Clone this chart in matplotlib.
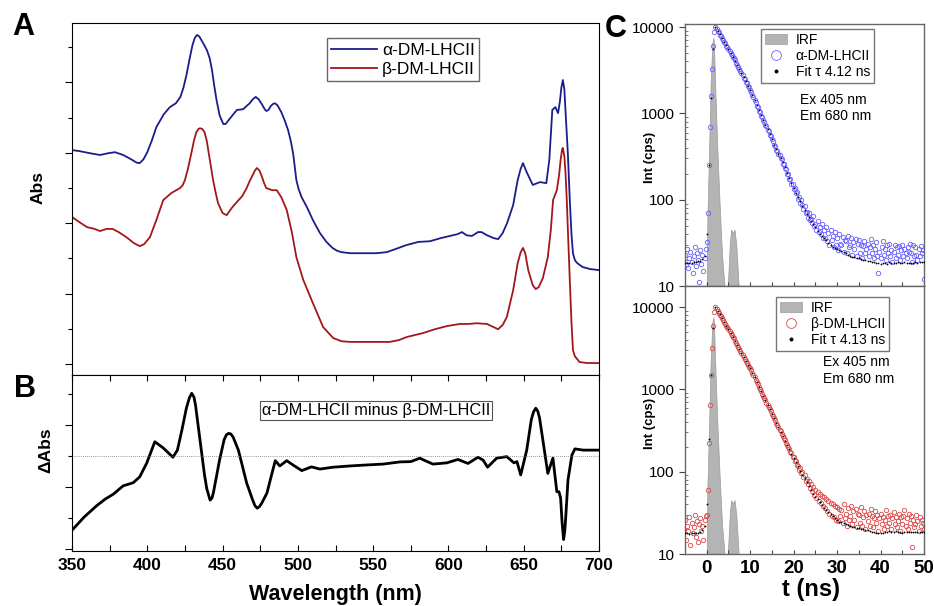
import numpy as np
import matplotlib
matplotlib.use('Agg')
import matplotlib.pyplot as plt

plt.rcParams['font.family'] = ['Liberation Sans', 'DejaVu Sans']

W, H = 934, 606

# ---- panel A: absorption spectra (arbitrary units) ----
wl_a = [350, 355, 362, 368.6, 374, 378.5, 384, 390, 393, 395, 397.5, 400, 403, 406, 411,
        415, 419, 422, 424, 426, 428, 430, 431.5, 433, 434.5, 436, 438, 439.6, 441.5, 443,
        444.5, 446, 448, 450.5, 452, 454, 459.5, 463.6, 468, 470, 472, 474, 476, 478, 479,
        480.5, 482, 483.5, 484.8, 486.5, 489, 491, 493.5, 495.5, 497, 499, 500.5, 502.5,
        506, 510, 514.7, 519, 523, 526, 529, 534.6, 545, 552, 559, 565, 572, 580, 587.7,
        595, 601, 606, 609, 612, 615.6, 619.6, 622, 625.6, 630, 633, 636, 639, 643, 646,
        648, 649.5, 652, 656, 660.8, 665, 667, 669, 671, 672.8, 674, 675, 676, 677, 678,
        679.3, 680.6, 681.7, 682.7, 684, 685.5, 689, 694, 700]
abs_alpha = [0.608, 0.605, 0.599, 0.594, 0.599, 0.602, 0.594, 0.580, 0.572, 0.571, 0.582,
             0.602, 0.635, 0.673, 0.710, 0.730, 0.741, 0.759, 0.785, 0.821, 0.865, 0.906,
             0.926, 0.935, 0.931, 0.920, 0.905, 0.892, 0.868, 0.835, 0.790, 0.750, 0.707,
             0.682, 0.682, 0.693, 0.722, 0.724, 0.741, 0.752, 0.759, 0.752, 0.739, 0.724,
             0.719, 0.722, 0.733, 0.739, 0.741, 0.735, 0.716, 0.695, 0.665, 0.630, 0.594,
             0.523, 0.497, 0.474, 0.446, 0.409, 0.372, 0.347, 0.330, 0.322, 0.318, 0.315,
             0.315, 0.315, 0.318, 0.327, 0.338, 0.347, 0.349, 0.358, 0.364, 0.369, 0.375,
             0.366, 0.364, 0.375, 0.375, 0.366, 0.358, 0.355, 0.372, 0.401, 0.452, 0.523,
             0.555, 0.571, 0.545, 0.509, 0.517, 0.514, 0.580, 0.722, 0.730, 0.713, 0.745,
             0.785, 0.807, 0.780, 0.700, 0.600, 0.466, 0.370, 0.315, 0.295, 0.287, 0.276,
             0.270, 0.267]

wl_b = [350, 355, 360, 365, 368.6, 373, 377, 381, 386, 391, 395, 398, 401.8, 406, 410.6,
        416, 421.7, 423.5, 425, 427, 429, 431, 432.5, 434, 435, 436.5, 438, 439.5, 441,
        442.5, 443.7, 445.5, 447, 450, 452.7, 456, 459.4, 463, 466, 468, 470, 471.5, 472.8,
        474.5, 476, 477.5, 479, 483, 486, 489, 492.6, 496, 499, 503.6, 510, 516.8, 523.5,
        529, 534.6, 545, 561, 567, 572.4, 583, 591, 599, 607.6, 613, 618.9, 625.6, 630,
        633, 636, 638.8, 643, 646, 648, 649.5, 651, 653, 656, 658, 660, 662.7, 666, 668,
        669.5, 672, 673.5, 674.5, 675.5, 676, 677, 677.8, 678.6, 679.6, 680.6, 681.7,
        682.7, 684, 685, 687, 692, 700]
abs_beta = [0.418, 0.403, 0.389, 0.384, 0.378, 0.384, 0.384, 0.375, 0.361, 0.344, 0.335,
            0.341, 0.361, 0.409, 0.466, 0.486, 0.500, 0.508, 0.523, 0.555, 0.594, 0.635,
            0.658, 0.668, 0.670, 0.668, 0.659, 0.635, 0.594, 0.555, 0.523, 0.485, 0.457,
            0.429, 0.423, 0.443, 0.460, 0.477, 0.500, 0.520, 0.537, 0.550, 0.557, 0.550,
            0.534, 0.515, 0.500, 0.494, 0.494, 0.474, 0.438, 0.375, 0.304, 0.239, 0.173,
            0.105, 0.074, 0.065, 0.063, 0.063, 0.063, 0.068, 0.077, 0.088, 0.099, 0.108,
            0.114, 0.114, 0.116, 0.114, 0.105, 0.099, 0.111, 0.134, 0.210, 0.287, 0.318,
            0.330, 0.315, 0.267, 0.224, 0.213, 0.219, 0.244, 0.304, 0.381, 0.466, 0.494,
            0.537, 0.580, 0.610, 0.614, 0.590, 0.540, 0.466, 0.350, 0.239, 0.120, 0.040,
            0.022, 0.017, 0.006, 0.003, 0.003]

# ---- panel B: difference spectrum ----
wl_d = [350, 358, 366.4, 372, 377.4, 384, 390.7, 395, 399.6, 405, 410.6, 417, 420, 423,
        426, 428, 429.5, 431, 432, 435, 438, 439.5, 441.7, 443, 444, 448, 451, 452.5, 454,
        455.5, 457, 460.5, 466, 470, 471.5, 473, 474.5, 476, 479.5, 482, 485, 488, 492.6,
        496.8, 502.6, 509, 514.6, 523.5, 534.6, 545, 556.6, 567.8, 575, 581, 585, 589.7,
        599, 606.3, 613, 619.6, 623, 626, 632, 638.8, 643.5, 645.5, 648, 652, 655, 656.5,
        658, 659.3, 660.5, 662.7, 666, 669.4, 672, 673.4, 674.5, 675.5, 676.5, 677.3, 678,
        679.4, 682, 684, 689.5, 700]
d_abs = [-0.0239, -0.0197, -0.0160, -0.0139, -0.0123, -0.0096, -0.0086, -0.0067, -0.0023,
         0.0046, 0.0026, -0.0004, 0.0019, 0.0084, 0.0155, 0.0188, 0.0202, 0.0190, 0.0165,
         0.0052, -0.0061, -0.0105, -0.0142, -0.0135, -0.0116, -0.0013, 0.0052, 0.0068,
         0.0073, 0.0071, 0.0061, 0.0019, -0.0087, -0.0142, -0.0160, -0.0168, -0.0163,
         -0.0152, -0.0119, -0.0071, -0.0015, -0.0032, -0.0015, -0.0029, -0.0047, -0.0035,
         -0.0042, -0.0036, -0.0032, -0.0029, -0.0026, -0.0019, -0.0018, -0.0007, -0.0016,
         -0.0026, -0.0022, -0.0011, -0.0024, -0.0004, -0.0013, -0.0036, -0.0007, -0.0002,
         -0.0022, -0.0018, -0.0061, 0.0019, 0.0116, 0.0142, 0.0154, 0.0145, 0.0123, 0.0052,
         -0.0056, -0.0007, -0.0115, -0.0115, -0.0135, -0.0215, -0.0269, -0.0240, -0.0190,
         -0.0077, 0.0003, 0.0023, 0.0019, 0.0019]

# ---- panel C: fluorescence decays ----
t_fit = np.arange(-5, 50.01, 0.5)
t_dat = np.arange(-5, 50.01, 0.25)

fit_alpha = [18.5, 18.5, 18.3, 18.6, 18.8, 19.0, 19.3, 19.6, 20.5, 22,
             40, 250, 1500, 5500, 10000,
             9060, 8210, 7440, 6740, 6110, 5530, 5010, 4540,
             4080, 3650, 3270, 2920, 2620, 2340, 2100, 1875,
             1640, 1430, 1245, 1085,
             950, 840, 741, 653, 577, 509,
             430, 384, 341, 304, 270,
             236, 205, 178, 154,
             135, 121, 107, 96, 85.5, 76,
             68.3, 62.5, 57.2, 52.3, 47.8, 43.8,
             40.3, 37.9, 35.7, 33.7, 31.7, 29.9,
             28.3, 27.5, 26.7, 26.0, 25.2, 24.5, 23.8, 23.1, 22.4,
             21.8, 21.5, 21.2, 20.9, 20.5, 20.2, 19.9, 19.6, 19.3, 19.0, 18.8, 18.5, 18.3,
             18.0, 18.4, 18.6, 18.2, 18.8, 18.5, 18.3, 18.7, 18.9, 18.4, 18.6, 18.9, 18.5,
             18.7, 18.4, 18.6, 18.9, 18.5, 18.8, 18.9, 19.0]

fit_beta = [17.8, 17.9, 17.6, 18.0, 17.8, 18.2, 18.0, 18.5, 19.5, 22,
            40, 250, 1500, 5500, 10000,
            9020, 8130, 7330, 6610, 5960, 5380, 4850, 4380,
            3920, 3490, 3100, 2760, 2460, 2190, 1950, 1812,
            1590, 1400, 1228, 1080, 948,
            834, 736, 649, 572, 505,
            445, 393, 347, 306, 270, 239,
            211, 187, 166, 147, 131, 116,
            103, 92.3, 82.8, 74.2, 66.5, 59.7,
            53.8, 49.8, 46.1, 42.6, 39.5, 36.5,
            33.9, 32.2, 30.5, 29.0, 27.5, 26.1,
            24.8, 24.5, 24.0, 23.2, 22.4, 21.9, 21.5,
            21.1, 20.8, 20.5, 20.2, 19.9, 19.6,
            19.3, 18.9, 18.6, 18.3, 18.1, 17.9, 17.8,
            18.0, 18.3, 18.6, 18.9, 18.7, 18.5, 18.8, 18.4, 18.6, 18.2, 18.5, 18.7, 18.4,
            18.6, 18.3, 18.7, 18.5, 18.6, 18.4, 18.6]

cnt_alpha = [23, 18, 27, 16, 21, 25, 19, 14, 22, 28, 17, 24, 20, 11, 26, 18, 23, 15, 21, 27,
             32, 70, 250, 700, 1600, 3300, 6000, 8800,
             10000, 9600, 9000, 8700, 8150, 7900, 7400, 7150, 6700, 6450, 6050, 5850,
             5500, 5300, 4950, 4800, 4500, 4350, 4100, 3880, 3620, 3480, 3240, 3120,
             2900, 2800, 2600, 2510, 2320, 2240, 2080, 2010, 1860, 1770, 1620, 1550,
             1420, 1350, 1230, 1180, 1070, 1030, 940, 910, 830, 800, 730, 710,
             640, 625, 565, 550, 500, 480, 425, 415, 380, 370, 335, 330,
             300, 295, 262, 262, 232, 228, 200, 198, 172, 175, 150, 152,
             132, 138, 118, 122,
             102, 108, 92, 99, 86, 78, 84, 70, 72, 62, 70, 58, 60, 54, 64, 50,
             52, 45, 57, 42, 48, 40, 52, 36, 44, 36, 48, 33, 41, 30, 45, 34,
             38, 28, 42, 30, 36, 26, 40, 31, 30, 37, 25, 34, 33, 24, 38, 28,
             30, 36, 23, 32, 27, 35, 22, 31, 34, 24, 30, 21, 29, 33, 24, 27,
             31, 22, 28, 35, 24, 30, 21, 27, 32, 22, 14, 25, 21, 28, 33, 23,
             27, 20, 30, 24, 31, 22, 26, 19, 25, 30, 21, 28, 23, 29, 20, 26,
             30, 22, 27, 24, 21, 28, 25, 31, 24, 19, 30, 22, 28, 23, 20, 27,
             22, 29, 24, 26,
             12]

cnt_beta = [26, 15, 22, 19, 28, 13, 24, 18, 21, 30, 16, 25, 14, 23, 27, 19, 22, 15, 26, 29,
            30, 60, 220, 650, 1500, 3200, 5900, 8700,
            10000, 9500, 9000, 8550, 8100, 7700, 7300, 6950, 6600, 6250, 5950, 5650,
            5380, 5100, 4850, 4600, 4380, 4150, 3920, 3700, 3490, 3300, 3100, 2930,
            2760, 2610, 2460, 2330, 2190, 2080, 1950, 1870, 1810, 1700, 1590, 1490,
            1400, 1310, 1230, 1150, 1080, 1010, 950, 890, 830, 780, 740, 690,
            650, 610, 575, 540, 505, 470, 445, 420, 395, 370, 350, 325,
            310, 290, 268, 255, 242, 225, 210, 200, 190, 172, 168, 152,
            150, 136, 133, 120,
            118, 106, 110, 96, 98, 86, 90, 78, 82, 70, 78, 64, 70, 58, 66, 52,
            60, 48, 57, 44, 54, 42, 50, 38, 49, 36, 46, 33, 44, 31, 42, 29,
            40, 28, 38, 26, 37, 25, 35, 29, 34, 24, 40, 27, 31, 22, 36, 26,
            29, 38, 23, 33, 26, 35, 21, 31, 30, 24, 37, 22, 28, 33, 20, 30,
            25, 31, 22, 35, 29, 21, 27, 33, 24, 30, 19, 27, 31, 23, 28, 20,
            26, 34, 22, 29, 24, 30, 20, 27, 32, 23, 28, 21, 25, 31, 19, 28,
            23, 29, 34, 22, 27, 20, 31, 24, 29, 12, 26, 21, 23, 30, 25, 19,
            28, 22, 26, 24,
            20]

t_irf = [-0.3, 0.0, 0.15, 0.55, 0.9, 1.3, 1.55, 1.7, 2.05, 2.45, 2.8, 3.2, 3.55, 4.1,
         4.4, 4.85, 5.3, 5.6, 6.0, 6.4, 6.8, 7.35, 7.8]
irf = [1, 10, 63, 380, 2200, 6500, 7500, 5500, 1450, 380, 141, 49, 22, 10,
       5, 10, 30, 45, 41, 45, 30, 10, 1]


def fx(px):
    return px / W


def fy(py):
    return 1 - py / H


def axes_px(fig, x0, y0, x1, y1):
    return fig.add_axes([fx(x0), fy(y1), fx(x1) - fx(x0), fy(y0) - fy(y1)])


fig = plt.figure(figsize=(W / 100, H / 100), dpi=100)

# ---------- A ----------
axA = axes_px(fig, 72, 23, 599, 375)
axA.plot(wl_a, abs_alpha, color='#1c1c8a', lw=1.3, label='\u03b1-DM-LHCII')
axA.plot(wl_b, abs_beta, color='#a3171c', lw=1.3, label='\u03b2-DM-LHCII')
axA.set_xlim(350, 700)
axA.set_ylim(-0.031, 0.969)
axA.set_yticks(np.arange(0, 0.85, 0.2))
axA.set_yticks(np.arange(0.1, 0.95, 0.2), minor=True)
axA.set_yticklabels([])
axA.tick_params(axis='y', which='major', direction='out', length=5, width=0.8)
axA.tick_params(axis='y', which='minor', direction='out', length=3, width=0.8)
axA.set_xticks([])
axA.legend(loc='upper left', bbox_to_anchor=(0.484, 0.957), borderaxespad=0,
           fontsize=12.5, handlelength=2.6, handletextpad=0.3, labelspacing=0.25,
           borderpad=0.25, fancybox=False, edgecolor='#666666', framealpha=1)

# ---------- B ----------
axB = axes_px(fig, 72, 375, 599, 551)
axB.plot(wl_d, d_abs, color='black', lw=2.0)
axB.axhline(0, color='#777777', lw=0.6, ls=(0, (1, 1.5)))
axB.set_xlim(350, 700)
axB.set_ylim(-0.0306, 0.0261)
axB.set_yticks([-0.03, -0.01, 0.01])
axB.set_yticks([-0.02, 0.0, 0.02], minor=True)
axB.set_yticklabels([])
axB.tick_params(axis='y', which='major', direction='out', length=5, width=0.8)
axB.tick_params(axis='y', which='minor', direction='out', length=3, width=0.8)
axB.set_xticks(np.arange(350, 701, 50))
axB.set_xticks(np.arange(375, 700, 50), minor=True)
axB.tick_params(axis='x', which='both', direction='in', top=True, length=4, width=0.8,
                labelsize=12.5, pad=5)
for lab in axB.get_xticklabels():
    lab.set_fontweight('bold')
axB.text(0.577, 0.80, '\u03b1-DM-LHCII minus \u03b2-DM-LHCII', transform=axB.transAxes,
         ha='center', va='center', fontsize=11.8,
         bbox=dict(boxstyle='square,pad=0.12', fc='white', ec='#555555', lw=0.8))

# ---------- C ----------
def decay_panel(ax, t_d, counts, t_f, fit, color, label, tau, ymax, leg_anchor):
    ax.fill_between(t_irf, irf, 1, color='#b4b4b4', edgecolor='#9a9a9a', lw=0.5,
                    label='IRF', zorder=1)
    ax.plot(t_d, counts, ls='none', marker='o', ms=3.2, mfc='none', mec=color, mew=0.6,
            label=label, zorder=2)
    ax.plot(t_f, fit, ls='none', marker='o', ms=1.3, color='black', mew=0,
            label='Fit \u03c4 ' + tau + ' ns', zorder=3)
    ax.set_yscale('log')
    ax.set_xlim(-5, 50)
    ax.set_ylim(10, ymax)
    ax.set_yticks([10, 100, 1000, 10000], labels=['10', '100', '1000', '10000'])
    ax.set_xticks(np.arange(0, 51, 10))
    ax.set_xticks(np.arange(5, 50, 10), minor=True)
    ax.tick_params(axis='y', which='major', direction='out', length=4, width=0.8,
                   labelsize=11, colors='#444444', labelcolor='black')
    ax.tick_params(axis='y', which='minor', direction='in', length=2, width=0.6,
                   colors='#666666')
    ax.tick_params(axis='x', which='both', direction='in', length=3, width=0.8,
                   colors='#444444', labelcolor='black', labelsize=13.5, pad=4)
    for sp in ax.spines.values():
        sp.set_color('#666666')
        sp.set_linewidth(1.0)
    ax.legend(loc='upper left', bbox_to_anchor=leg_anchor, borderaxespad=0, fontsize=10,
              markerscale=2.2, handlelength=1.6, handletextpad=0.6, labelspacing=0.15,
              borderpad=0.3, fancybox=False, edgecolor='#777777', framealpha=1)


axC1 = axes_px(fig, 685, 24, 924, 286)
decay_panel(axC1, t_dat, cnt_alpha, t_fit, fit_alpha, '#6a5fff', '\u03b1-DM-LHCII',
            '4.12', 10840, (0.318, 0.981))
axC1.tick_params(axis='x', labelbottom=False)

axC2 = axes_px(fig, 685, 286, 924, 554)
decay_panel(axC2, t_dat, cnt_beta, t_fit, fit_beta, '#dd4a4a', '\u03b2-DM-LHCII',
            '4.13', 18000, (0.381, 0.959))
for lab in axC2.get_xticklabels():
    lab.set_fontweight('bold')

fig.text(fx(800), fy(100), 'Ex 405 nm', fontsize=10, ha='left', va='center')
fig.text(fx(800), fy(116), 'Em 680 nm', fontsize=10, ha='left', va='center')
fig.text(fx(823), fy(362), 'Ex 405 nm', fontsize=10, ha='left', va='center')
fig.text(fx(823), fy(379), 'Em 680 nm', fontsize=10, ha='left', va='center')

# ---------- labels ----------
fig.text(fx(38), fy(188), 'Abs', rotation=90, fontsize=12.5, fontweight='bold',
         ha='center', va='center')
fig.text(fx(46), fy(450), '\u0394Abs', rotation=90, fontsize=12.5, fontweight='bold',
         ha='center', va='center')
fig.text(fx(650), fy(157), 'Int (cps)', rotation=90, fontsize=9.5, fontweight='bold',
         ha='center', va='center')
fig.text(fx(650), fy(423), 'Int (cps)', rotation=90, fontsize=9.5, fontweight='bold',
         ha='center', va='center')
fig.text(fx(335), fy(584), 'Wavelength (nm)', fontsize=15.5, fontweight='bold',
         ha='center', va='top')
fig.text(fx(811), fy(578), 't (ns)', fontsize=17, fontweight='bold',
         ha='center', va='top')
fig.text(fx(23), fy(27), 'A', fontsize=22, fontweight='bold', ha='center', va='center')
fig.text(fx(25), fy(389), 'B', fontsize=22, fontweight='bold', ha='center', va='center')
fig.text(fx(616), fy(29), 'C', fontsize=22, fontweight='bold', ha='center', va='center')

fig.savefig('out.png', dpi=100)
